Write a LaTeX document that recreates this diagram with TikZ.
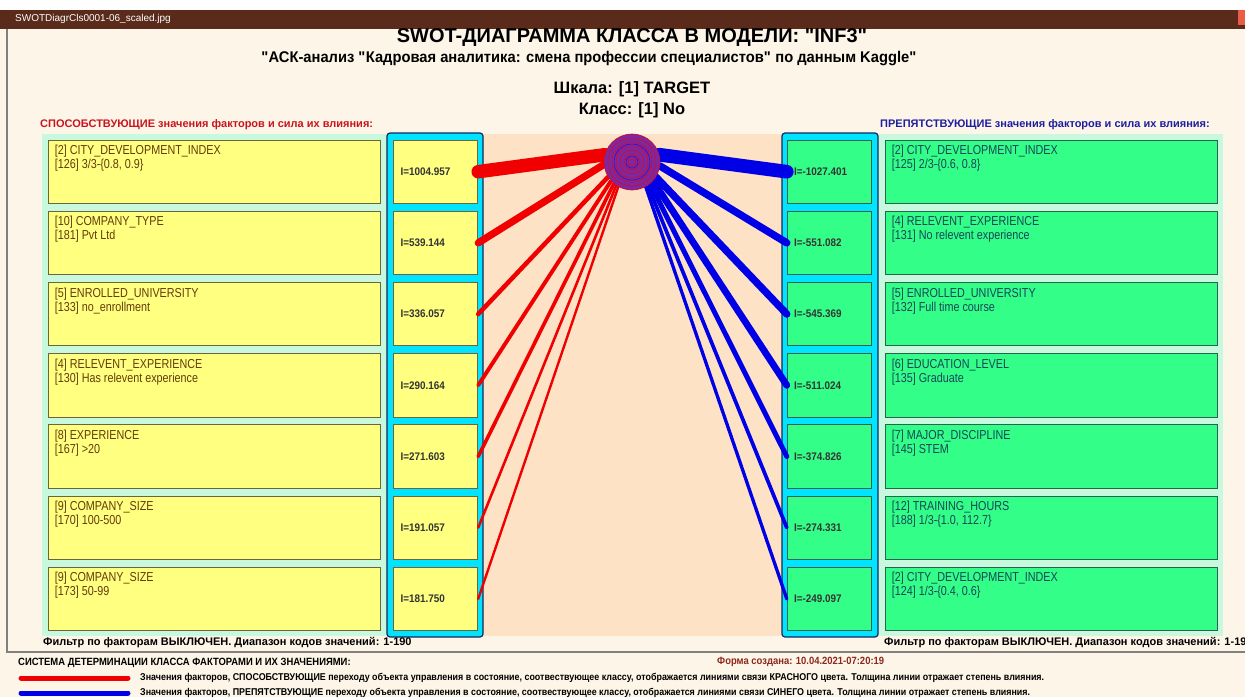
\documentclass[tikz,border=0pt]{standalone}
\usepackage{fontspec}
\setmainfont{Liberation Sans}
\newfontfamily\narrowfont[FakeStretch=0.9]{Liberation Sans}
\newfontfamily\condfont[FakeStretch=0.83]{Liberation Sans}
\newfontfamily\subfont[FakeStretch=0.95]{Liberation Sans}
\newcommand\dq{\XeTeXglyph\XeTeXcharglyph"22 }
\usetikzlibrary{positioning}
\definecolor{topbar}{RGB}{90,42,26}
\definecolor{paper}{RGB}{253,246,232}
\definecolor{mint}{RGB}{200,248,222}
\definecolor{peach}{RGB}{253,226,198}
\definecolor{boxyellow}{RGB}{255,255,128}
\definecolor{boxgreen}{RGB}{51,255,136}
\definecolor{colcyan}{RGB}{0,228,255}
\definecolor{coledge}{RGB}{20,40,90}
\definecolor{yedge}{RGB}{110,100,60}
\definecolor{gedge}{RGB}{40,100,80}
\definecolor{ytext}{RGB}{100,60,10}
\definecolor{gtext}{RGB}{20,70,90}
\definecolor{headred}{RGB}{200,20,30}
\definecolor{headblue}{RGB}{30,30,160}
\definecolor{linkred}{RGB}{240,0,0}
\definecolor{linkblue}{RGB}{0,0,230}
\definecolor{clsviolet}{RGB}{125,40,160}
\definecolor{formred}{RGB}{140,40,30}
\tikzset{
LBOX/.style ={draw=yedge,fill=boxyellow,line width=0.8pt,minimum width=332pt,minimum height=63.5pt,inner sep=0pt},
RBOX/.style ={draw=gedge,fill=boxgreen,line width=0.8pt,minimum width=332pt,minimum height=63.5pt,inner sep=0pt},
LIBOX/.style={draw=yedge,fill=boxyellow,line width=0.8pt,minimum width=84pt,minimum height=63.5pt,inner sep=0pt},
RIBOX/.style={draw=gedge,fill=boxgreen,line width=0.8pt,minimum width=84pt,minimum height=63.5pt,inner sep=0pt},
LTXT/.style ={anchor=north west,align=left,inner sep=0pt,text=ytext,font=\condfont\fontsize{13}{14}\selectfont},
RTXT/.style ={anchor=north west,align=left,inner sep=0pt,text=gtext,font=\condfont\fontsize{13}{14}\selectfont},
ITXT/.style ={anchor=west,inner sep=0pt,text=black!80,font=\narrowfont\bfseries\fontsize{11}{12}\selectfont},
COLUMN/.style={draw=coledge,fill=colcyan,line width=1.2pt,rounded corners=3pt},
RLINK/.style={draw=linkred,line cap=round},
BLINK/.style={draw=linkblue,line cap=round},
FOOT/.style ={anchor=west,inner sep=0pt,font=\bfseries\fontsize{11}{13}\selectfont},
LEGEND/.style={anchor=west,inner sep=0pt,font=\narrowfont\bfseries\fontsize{9.9}{11}\selectfont},
}
\begin{document}
\begin{tikzpicture}[x=1pt,y=-1pt]
	\clip (0,0) rectangle (1245,697);
	\fill[paper] (0,0) rectangle (1245,697);
	% window frame
	\fill[white] (0,0) rectangle (1245,10);
	\fill[topbar] (0,10) rectangle (1245,29);
	\fill[red!60!brown!80] (1238,10) rectangle (1245,25);
	\node[anchor=west,inner sep=0pt,text=white,font=\fontsize{10}{11}\selectfont] (fname) at (15,19) {SWOTDiagrCls0001-06\_scaled.jpg};
	\draw[gray,line width=1.2pt] (7,29) -- (7,652) -- (1245,652);
	% titles
	\node[font=\bfseries\fontsize{20}{22}\selectfont] (title) at (632,37.5) {SWOT-ДИАГРАММА КЛАССА В МОДЕЛИ: \dq INF3\dq};
	\node[font=\subfont\bfseries\fontsize{15.5}{18}\selectfont] (subtitle) at (589,58.5) {\dq АСК-анализ \dq Кадровая аналитика: смена профессии специалистов\dq{} по данным Kaggle\dq};
	\node[font=\bfseries\fontsize{16.5}{18}\selectfont] (scale) at (632,89.5) {Шкала: [1] TARGET};
	\node[font=\bfseries\fontsize{16.5}{18}\selectfont] (class) at (632,110) {Класс: [1] No};
	\node[anchor=west,inner sep=0pt,text=headred,font=\bfseries\fontsize{11}{12}\selectfont] (lhead) at (40,125) {СПОСОБСТВУЮЩИЕ значения факторов и сила их влияния:};
	\node[anchor=west,inner sep=0pt,text=headblue,font=\bfseries\fontsize{11}{12}\selectfont] (rhead) at (880,125) {ПРЕПЯТСТВУЮЩИЕ значения факторов и сила их влияния:};
	% panels
	\fill[mint] (42,134) rectangle (387,636);
	\fill[mint] (878,134) rectangle (1223,636);
	\fill[peach] (483,134) rectangle (782,636);
	\path[COLUMN] (387,133) rectangle (483,637);
	\path[COLUMN] (782,133) rectangle (878,637);
	% promoting factors
	\node[LBOX] (lf1) at (214,171.7) {};
	\node[LBOX] (lf2) at (214,242.9) {};
	\node[LBOX] (lf3) at (214,314.1) {};
	\node[LBOX] (lf4) at (214,385.3) {};
	\node[LBOX] (lf5) at (214,456.5) {};
	\node[LBOX] (lf6) at (214,527.7) {};
	\node[LBOX] (lf7) at (214,598.9) {};
	\node[LTXT] (lt1) at ([xshift=7pt,yshift=-5.5pt]lf1.north west) {[2] CITY\_DEVELOPMENT\_INDEX\\{}[126] 3/3-\{0.8, 0.9\}};
	\node[LTXT] (lt2) at ([xshift=7pt,yshift=-5.5pt]lf2.north west) {[10] COMPANY\_TYPE\\{}[181] Pvt Ltd};
	\node[LTXT] (lt3) at ([xshift=7pt,yshift=-5.5pt]lf3.north west) {[5] ENROLLED\_UNIVERSITY\\{}[133] no\_enrollment};
	\node[LTXT] (lt4) at ([xshift=7pt,yshift=-5.5pt]lf4.north west) {[4] RELEVENT\_EXPERIENCE\\{}[130] Has relevent experience};
	\node[LTXT] (lt5) at ([xshift=7pt,yshift=-5.5pt]lf5.north west) {[8] EXPERIENCE\\{}[167] >20};
	\node[LTXT] (lt6) at ([xshift=7pt,yshift=-5.5pt]lf6.north west) {[9] COMPANY\_SIZE\\{}[170] 100-500};
	\node[LTXT] (lt7) at ([xshift=7pt,yshift=-5.5pt]lf7.north west) {[9] COMPANY\_SIZE\\{}[173] 50-99};
	\node[LIBOX,right=13pt of lf1] (li1) {};
	\node[LIBOX,right=13pt of lf2] (li2) {};
	\node[LIBOX,right=13pt of lf3] (li3) {};
	\node[LIBOX,right=13pt of lf4] (li4) {};
	\node[LIBOX,right=13pt of lf5] (li5) {};
	\node[LIBOX,right=13pt of lf6] (li6) {};
	\node[LIBOX,right=13pt of lf7] (li7) {};
	\node[ITXT] (lv1) at ([xshift=7pt]li1.west) {I=1004.957};
	\node[ITXT] (lv2) at ([xshift=7pt]li2.west) {I=539.144};
	\node[ITXT] (lv3) at ([xshift=7pt]li3.west) {I=336.057};
	\node[ITXT] (lv4) at ([xshift=7pt]li4.west) {I=290.164};
	\node[ITXT] (lv5) at ([xshift=7pt]li5.west) {I=271.603};
	\node[ITXT] (lv6) at ([xshift=7pt]li6.west) {I=191.057};
	\node[ITXT] (lv7) at ([xshift=7pt]li7.west) {I=181.750};
	% hindering factors
	\node[RBOX] (rf1) at (1051,171.7) {};
	\node[RBOX] (rf2) at (1051,242.9) {};
	\node[RBOX] (rf3) at (1051,314.1) {};
	\node[RBOX] (rf4) at (1051,385.3) {};
	\node[RBOX] (rf5) at (1051,456.5) {};
	\node[RBOX] (rf6) at (1051,527.7) {};
	\node[RBOX] (rf7) at (1051,598.9) {};
	\node[RTXT] (rt1) at ([xshift=7pt,yshift=-5.5pt]rf1.north west) {[2] CITY\_DEVELOPMENT\_INDEX\\{}[125] 2/3-\{0.6, 0.8\}};
	\node[RTXT] (rt2) at ([xshift=7pt,yshift=-5.5pt]rf2.north west) {[4] RELEVENT\_EXPERIENCE\\{}[131] No relevent experience};
	\node[RTXT] (rt3) at ([xshift=7pt,yshift=-5.5pt]rf3.north west) {[5] ENROLLED\_UNIVERSITY\\{}[132] Full time course};
	\node[RTXT] (rt4) at ([xshift=7pt,yshift=-5.5pt]rf4.north west) {[6] EDUCATION\_LEVEL\\{}[135] Graduate};
	\node[RTXT] (rt5) at ([xshift=7pt,yshift=-5.5pt]rf5.north west) {[7] MAJOR\_DISCIPLINE\\{}[145] STEM};
	\node[RTXT] (rt6) at ([xshift=7pt,yshift=-5.5pt]rf6.north west) {[12] TRAINING\_HOURS\\{}[188] 1/3-\{1.0, 112.7\}};
	\node[RTXT] (rt7) at ([xshift=7pt,yshift=-5.5pt]rf7.north west) {[2] CITY\_DEVELOPMENT\_INDEX\\{}[124] 1/3-\{0.4, 0.6\}};
	\node[RIBOX,left=13pt of rf1] (ri1) {};
	\node[RIBOX,left=13pt of rf2] (ri2) {};
	\node[RIBOX,left=13pt of rf3] (ri3) {};
	\node[RIBOX,left=13pt of rf4] (ri4) {};
	\node[RIBOX,left=13pt of rf5] (ri5) {};
	\node[RIBOX,left=13pt of rf6] (ri6) {};
	\node[RIBOX,left=13pt of rf7] (ri7) {};
	\node[ITXT] (rv1) at ([xshift=7pt]ri1.west) {I=-1027.401};
	\node[ITXT] (rv2) at ([xshift=7pt]ri2.west) {I=-551.082};
	\node[ITXT] (rv3) at ([xshift=7pt]ri3.west) {I=-545.369};
	\node[ITXT] (rv4) at ([xshift=7pt]ri4.west) {I=-511.024};
	\node[ITXT] (rv5) at ([xshift=7pt]ri5.west) {I=-374.826};
	\node[ITXT] (rv6) at ([xshift=7pt]ri6.west) {I=-274.331};
	\node[ITXT] (rv7) at ([xshift=7pt]ri7.west) {I=-249.097};
	% class and its links
	\node[circle,minimum size=56pt,inner sep=0pt] (cls) at (632,162) {};
	\path[RLINK,line width=13.5pt] (cls.165) -- (li1.east);
	\path[RLINK,line width=7.2pt] (cls.185) -- (li2.east);
	\path[RLINK,line width=4.5pt] (cls.212) -- (li3.east);
	\path[RLINK,line width=3.9pt] (cls.222) -- (li4.east);
	\path[RLINK,line width=3.6pt] (cls.230) -- (li5.east);
	\path[RLINK,line width=2.6pt] (cls.236) -- (li6.east);
	\path[RLINK,line width=2.4pt] (cls.241) -- (li7.east);
	\path[BLINK,line width=13.7pt] (cls.15) -- (ri1.west);
	\path[BLINK,line width=7.4pt] (cls.352) -- (ri2.west);
	\path[BLINK,line width=7.3pt] (cls.328) -- (ri3.west);
	\path[BLINK,line width=6.8pt] (cls.318) -- (ri4.west);
	\path[BLINK,line width=5pt] (cls.310) -- (ri5.west);
	\path[BLINK,line width=3.7pt] (cls.304) -- (ri6.west);
	\path[BLINK,line width=3.3pt] (cls.299) -- (ri7.west);
	\fill[clsviolet] (cls.center) circle (28pt);
	\foreach \r in {4,8,...,28}
		\draw[linkred!80!clsviolet,line width=0.6pt] (cls.center) circle (\r pt);
	\draw[linkblue!70!clsviolet,line width=0.5pt] (cls.center) circle (6pt) (cls.center) circle (18pt);
	% footers
	\node[FOOT] (lfoot) at (43,643) {Фильтр по факторам ВЫКЛЮЧЕН. Диапазон кодов значений: 1-190};
	\node[FOOT] (rfoot) at (884,643) {Фильтр по факторам ВЫКЛЮЧЕН. Диапазон кодов значений: 1-19};
	\node[LEGEND,font=\narrowfont\bfseries\fontsize{10.5}{11}\selectfont] (system) at (18,663) {СИСТЕМА ДЕТЕРМИНАЦИИ КЛАССА ФАКТОРАМИ И ИХ ЗНАЧЕНИЯМИ:};
	\node[LEGEND,text=formred,font=\narrowfont\bfseries\fontsize{10.5}{11}\selectfont] (form) at (717,662) {Форма создана: 10.04.2021-07:20:19};
	\draw[linkred,line width=5pt,line cap=round] (21,678) -- (128,678);
	\draw[linkblue,line width=5pt,line cap=round] (21,693) -- (128,693);
	\node[LEGEND] (legred) at (140,678) {Значения факторов, СПОСОБСТВУЮЩИЕ переходу объекта управления в состояние, соотвествующее классу, отображается линиями связи КРАСНОГО цвета. Толщина линии отражает степень влияния.};
	\node[LEGEND] (legblue) at (140,693) {Значения факторов, ПРЕПЯТСТВУЮЩИЕ переходу объекта управления в состояние, соотвествующее классу, отображается линиями связи СИНЕГО цвета. Толщина линии отражает степень влияния.};
\end{tikzpicture}
\end{document}
